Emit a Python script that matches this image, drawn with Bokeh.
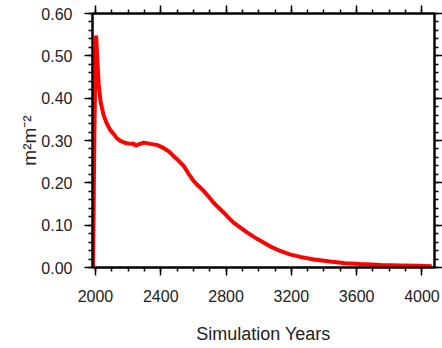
from bokeh.plotting import figure
from bokeh.models import LinearAxis, Range1d, PrintfTickFormatter, FixedTicker
from bokeh.embed import file_html
from bokeh.resources import INLINE

years = [1985, 1993, 2000, 2004, 2014, 2020, 2031, 2050, 2072, 2090, 2112, 2130, 2153, 2185,
         2214, 2235, 2245, 2260, 2296, 2337, 2380, 2418, 2450, 2479, 2510, 2540, 2570, 2602,
         2630, 2663, 2694, 2724, 2755, 2785, 2815, 2846, 2888, 2928, 2980, 3030, 3080, 3132,
         3190, 3255, 3340, 3438, 3530, 3622, 3750, 3867, 3970, 4060]
values = [0.0, 0.30, 0.50, 0.548, 0.472, 0.433, 0.393, 0.36, 0.338, 0.325, 0.315, 0.306, 0.299, 0.294,
          0.292, 0.293, 0.287, 0.290, 0.295, 0.292, 0.289, 0.282, 0.274, 0.263, 0.252, 0.240, 0.222, 0.204,
          0.193, 0.181, 0.167, 0.153, 0.141, 0.130, 0.118, 0.106, 0.094, 0.083, 0.070, 0.059, 0.048, 0.039,
          0.031, 0.025, 0.019, 0.014, 0.010, 0.008, 0.006, 0.005, 0.004, 0.003]
x_ticks = [2000, 2400, 2800, 3200, 3600, 4000]
y_ticks = [0.0, 0.1, 0.2, 0.3, 0.4, 0.5, 0.6]

FONT = "Liberation Sans"

p = figure(width=442, height=348, output_backend="svg", toolbar_location=None,
           x_range=Range1d(1982, 4077), y_range=Range1d(0, 0.6),
           min_border_left=92, min_border_right=8, min_border_top=13, min_border_bottom=81)
p.grid.visible = False
p.outline_line_color = "black"
p.outline_line_width = 2
p.background_fill_color = "white"
p.border_fill_color = "white"

p.line(years, values, line_color="#ff0000", line_width=4)

def style(ax, minor, ticks, labels=True):
    ax.ticker = FixedTicker(ticks=ticks, minor_ticks=minor)
    ax.axis_line_color = "black"
    ax.axis_line_width = 2
    ax.major_tick_line_color = "black"
    ax.major_tick_line_width = 1.5
    ax.minor_tick_line_color = "black"
    ax.minor_tick_line_width = 1.5
    ax.major_tick_in = 0
    ax.minor_tick_in = 0
    ax.major_tick_out = 8
    ax.minor_tick_out = 4
    ax.major_label_text_font = FONT
    ax.major_label_text_font_size = "16px"
    ax.major_label_text_color = "#222222" if labels else None
    ax.major_label_standoff = 12
    ax.axis_label_text_font = FONT
    ax.axis_label_text_font_style = "normal"
    ax.axis_label_text_font_size = "18px"
    ax.axis_label_text_color = "#222222"

xminor = [x for x in range(1900, 4100, 100)]
yminor = [round(i * 0.02, 2) for i in range(0, 31)]

style(p.xaxis[0], xminor, x_ticks)
p.xaxis[0].major_label_standoff = 14
p.xaxis[0].axis_label = "Simulation Years"
p.xaxis[0].axis_label_standoff = 19
style(p.yaxis[0], yminor, y_ticks)
p.yaxis[0].formatter = PrintfTickFormatter(format="%.2f")
p.yaxis[0].axis_label = "m²m⁻²"
p.yaxis[0].axis_label_text_font_size = "19px"
p.yaxis[0].axis_label_standoff = -2

top = LinearAxis()
style(top, xminor, x_ticks, labels=False)
top.major_label_text_font_size = "0px"
top.major_label_standoff = 0
p.add_layout(top, "above")
right = LinearAxis()
style(right, yminor, y_ticks, labels=False)
right.major_label_text_font_size = "0px"
right.major_label_standoff = 0
p.add_layout(right, "right")

open("out.html", "w").write(file_html(p, INLINE))
